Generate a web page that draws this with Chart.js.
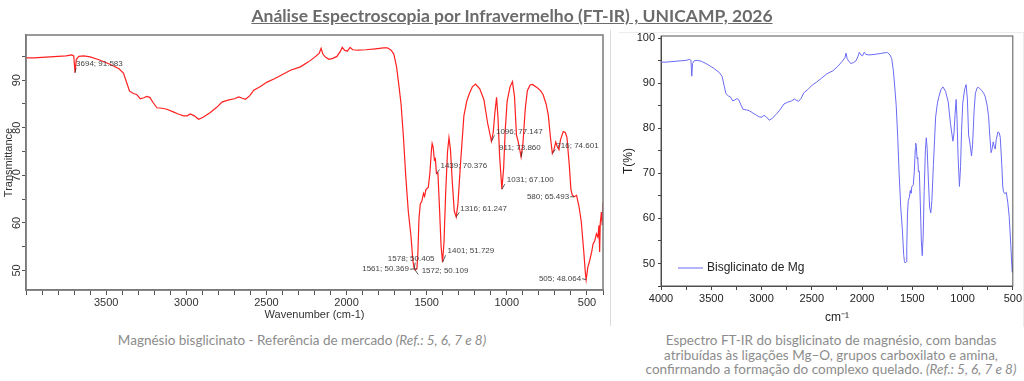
<!DOCTYPE html>
<html><head><meta charset="utf-8">
<script src="https://cdn.jsdelivr.net/npm/chart.js@4.4.1/dist/chart.umd.min.js"></script>
<style>
body{margin:0;width:1024px;height:381px;background:#fff;position:relative;overflow:hidden}
#title{position:absolute;left:0;top:5px;width:1024px;text-align:center;font:700 17.5px Lato,'Open Sans',sans-serif;color:#6b6b6b;text-decoration:underline;z-index:3}
#w1{position:absolute;left:0;top:0;width:612px;height:322px}
#w2{position:absolute;left:615px;top:0;width:409px;height:325px}
.cap{position:absolute;color:#8c8c8c;font:400 13.5px Lato,'Open Sans',sans-serif;text-align:center;line-height:14.5px;z-index:3}
.cap i{font-style:italic}
#frame1{position:absolute;left:0;top:30px;width:610px;height:296px;border-right:1px solid #dcdcdc}
#frame2{position:absolute;left:619px;top:32px;width:404px;height:294px;border-top:1px solid #ececec;border-right:1px solid #ececec}
</style></head>
<body>
<div id="frame1"></div><div id="frame2"></div>
<div id="title">Análise Espectroscopia por Infravermelho (FT-IR) , UNICAMP, 2026</div>
<div id="w1"><canvas id="c1" width="612" height="322"></canvas></div>
<div id="w2"><canvas id="c2" width="409" height="325"></canvas></div>
<div class="cap" style="left:0;top:333px;width:604px">Magnésio bisglicinato - Referência de mercado <i>(Ref.: 5, 6, 7 e 8)</i></div>
<div class="cap" style="left:600px;top:333px;width:462px">Espectro FT-IR do bisglicinato de magnésio, com bandas<br>atribuídas às ligações Mg–O, grupos carboxilato e amina,<br>confirmando a formação do complexo quelado. <i>(Ref.: 5, 6, 7 e 8)</i></div>
<script>
// ---- DATA ----
const wavenumber = [4000,3950,3900,3850,3800,3750,3715,3702,3694,3686,3670,3640,3600,3545,3480,3420,3392,3371,3354,3330,3310,3287,3265,3246,3228,3205,3183,3150,3121,3085,3050,3017,2995,2975,2950,2923,2895,2850,2810,2777,2740,2700,2673,2650,2631,2605,2579,2540,2496,2450,2400,2350,2288,2240,2200,2170,2159,2148,2130,2110,2085,2060,2040,2027,2012,1995,1978,1962,1930,1880,1820,1770,1745,1722,1705,1688,1672,1660,1645,1631,1615,1598,1586,1578,1572,1561,1555,1548,1540,1530,1520,1513,1505,1490,1480,1470,1466,1460,1452,1446,1439,1430,1420,1410,1401,1392,1382,1370,1361,1352,1340,1328,1316,1305,1290,1268,1250,1235,1215,1195,1169,1143,1120,1096,1085,1075,1064,1055,1045,1031,1020,1010,998,980,965,952,940,930,920,911,900,885,872,855,840,810,790,774,755,741,728,716,705,695,685,675,665,648,635,625,610,600,592,580,565,550,536,520,510,505,495,483,470,462,452,441,432,425,421,417,410,405,400];
const transmittance = [94.7,94.7,94.8,94.9,95.0,95.1,95.3,95.1,91.58,94.4,95.0,95.1,94.9,94.3,93.4,92.4,91.5,89.4,87.7,87.2,87.0,86.1,86.3,86.6,86.4,85.2,84.2,84.1,83.9,83.4,82.9,82.5,82.5,82.9,82.5,81.8,82.2,83.2,84.3,85.4,85.8,86.1,86.5,86.2,86.0,86.7,87.9,88.6,89.6,90.3,91.2,92.1,92.8,93.8,94.8,95.7,96.7,95.5,94.8,94.4,94.6,95.0,96.0,96.9,96.3,96.1,96.9,96.4,96.3,96.4,96.6,96.8,96.8,96.3,95.5,92.8,88.5,85.0,78.0,70.0,62.5,57.2,52.0,50.405,50.109,50.369,53.7,61.0,64.0,64.6,66.2,65.6,67.0,67.5,70.5,75.5,76.7,76.0,73.2,73.5,70.376,70.5,63.0,55.0,51.729,56.0,66.0,75.0,77.9,75.5,68.5,62.5,61.247,64.0,72.0,82.5,85.6,87.1,88.6,89.2,88.2,85.9,81.0,77.147,79.0,83.0,86.4,82.0,74.0,67.1,71.5,79.5,85.6,88.6,89.7,86.5,78.5,77.2,75.5,73.86,76.5,84.0,87.8,89.0,89.1,88.4,87.8,87.0,85.0,82.6,78.0,74.601,75.5,77.0,76.0,75.4,77.5,79.2,79.0,78.0,72.0,67.0,65.9,65.493,65.8,63.5,60.4,54.0,49.5,48.064,50.6,52.1,54.0,55.6,56.2,57.7,57.0,59.5,53.9,60.0,62.3,59.5,64.4];
const peakWavenumbers = [3694,1578,1561,1572,1401,1439,1316,1096,911,1031,716,580,505];
const peakValues = [91.583,50.405,50.369,50.109,51.729,70.376,61.247,77.147,73.860,67.100,74.601,65.493,48.064];
const leftXTickLabels = [3500,3000,2500,2000,1500,1000,500];
const leftYTickLabels = [50,60,70,80,90];
const rightXTickLabels = [4000,3500,3000,2500,2000,1500,1000,500];
const rightYTickLabels = [50,60,70,80,90,100];
const seriesName = 'Bisglicinato de Mg';

// label placement (px offsets from the peak point) for the left chart annotations
const peakLabelLayout = [
  {dx:1,dy:-8.5,align:'left'},{dx:-3,dy:-10,align:'center'},{dx:-8,dy:0.5,align:'right'},
  {dx:6.5,dy:0.5,align:'left'},{dx:5,dy:-11,align:'left'},{dx:4,dy:-8,align:'left'},
  {dx:4,dy:-8.5,align:'left'},{dx:4.5,dy:-10,align:'left'},{dx:-22,dy:-9.5,align:'left'},
  {dx:5,dy:-9,align:'left'},{dx:4,dy:-8,align:'left'},{dx:-5,dy:0,align:'right'},{dx:-5,dy:-1,align:'right'}
];

Chart.defaults.font.family = "'Liberation Sans', Arial, sans-serif";
const pts = wavenumber.map((x,i)=>({x:x,y:transmittance[i]}));

const framePlugin = {
  id:'frame',
  afterDraw(chart, args, opts){
    const a = chart.chartArea, c = chart.ctx;
    c.save(); c.strokeStyle = opts.color; c.lineWidth = opts.width;
    c.strokeRect(a.left, a.top, a.right-a.left, a.bottom-a.top);
    c.restore();
  }
};

const peakPlugin = {
  id:'peaks',
  afterDatasetsDraw(chart){
    const c = chart.ctx, xs = chart.scales.x, ys = chart.scales.y;
    c.save();
    c.font = "8px 'Liberation Sans', Arial, sans-serif";
    c.fillStyle = '#444'; c.strokeStyle = '#333'; c.lineWidth = 0.8;
    c.textBaseline = 'middle';
    peakWavenumbers.forEach((w,i)=>{
      const px = xs.getPixelForValue(w), py = ys.getPixelForValue(peakValues[i]);
      const L = peakLabelLayout[i];
      const tx = px + L.dx, ty = py + L.dy;
      c.textAlign = L.align;
      c.fillText(w + '; ' + peakValues[i].toFixed(3), tx, ty);
      c.beginPath(); c.moveTo(px, py);
      if (L.align === 'right') c.lineTo(tx + 1, ty);
      else c.lineTo(px + (L.dx > 0 ? Math.min(L.dx, 3) : 1), ty + 4);
      c.stroke();
    });
    c.restore();
  }
};

new Chart(document.getElementById('c1'), {
  type:'line',
  data:{datasets:[{data:pts, borderColor:'#ff2020', borderWidth:1.2, pointRadius:0, tension:0}]},
  options:{
    responsive:false, animation:false, events:[],
    layout:{padding:{top:35,right:9,left:0,bottom:0}},
    plugins:{legend:{display:false}, tooltip:{enabled:false}, frame:{color:'#7a7a7a', width:1.5}},
    scales:{
      x:{type:'linear', reverse:true, min:400, max:4000,
        ticks:{stepSize:100, autoSkip:false, maxRotation:0, minRotation:0, padding:1, color:'#333', font:{size:11},
          callback:v=>leftXTickLabels.includes(v)?String(v):''},
        grid:{drawOnChartArea:false, tickLength:5, color:'#555', tickWidth:1},
        border:{color:'#7a7a7a', width:1.5},
        title:{display:true, text:'Wavenumber (cm-1)', color:'#333', font:{size:11}, padding:{top:0,bottom:0}},
        afterFit(s){s.height = 32;}
      },
      y:{min:45.9, max:99.5,
        ticks:{stepSize:5, includeBounds:false, minRotation:90, maxRotation:90, crossAlign:'center', padding:-1, color:'#333', font:{size:11},
          callback:v=>leftYTickLabels.includes(v)?String(v):''},
        grid:{drawOnChartArea:false, tickLength:4, color:'#555'},
        border:{color:'#7a7a7a', width:1.5},
        title:{display:true, text:'Transmittance', color:'#333', font:{size:11}, padding:{top:2,bottom:0}},
        afterFit(s){s.width = 26;}
      }
    }
  },
  plugins:[framePlugin, peakPlugin]
});

const legendPlugin = {
  id:'inlegend',
  afterDraw(chart){
    const c = chart.ctx, a = chart.chartArea, ds = chart.data.datasets[0];
    const x0 = a.left + 17, y0 = a.bottom - 18;
    c.save();
    c.strokeStyle = ds.borderColor; c.lineWidth = 1;
    c.beginPath(); c.moveTo(x0, y0); c.lineTo(x0 + 25, y0); c.stroke();
    c.fillStyle = '#222'; c.font = "12px 'Liberation Sans', Arial, sans-serif";
    c.textBaseline = 'middle'; c.textAlign = 'left';
    c.fillText(ds.label, x0 + 29, y0);
    c.restore();
  }
};

new Chart(document.getElementById('c2'), {
  type:'line',
  data:{datasets:[{label:seriesName, data:pts, borderColor:'#6b6bf5', borderWidth:1, pointRadius:0, tension:0}]},
  options:{
    responsive:false, animation:false, events:[],
    layout:{padding:{top:36,right:10,left:0,bottom:0}},
    plugins:{legend:{display:false}, tooltip:{enabled:false}, frame:{color:'#555', width:1}},
    scales:{
      x:{type:'linear', reverse:true, min:500, max:4000,
        ticks:{stepSize:250, autoSkip:false, maxRotation:0, minRotation:0, padding:2, color:'#222', font:{size:11},
          callback:v=>rightXTickLabels.includes(v)?String(v):''},
        grid:{drawOnChartArea:false, tickLength:4, color:'#444'},
        border:{color:'#444', width:1},
        title:{display:true, text:'cm⁻¹', color:'#222', font:{size:12}, padding:{top:0,bottom:0}},
        afterFit(s){s.height = 39;}
      },
      y:{min:45, max:100.5,
        ticks:{stepSize:5, includeBounds:false, padding:3, color:'#222', font:{size:11},
          callback:v=>rightYTickLabels.includes(v)?String(v):''},
        grid:{drawOnChartArea:false, tickLength:3, color:'#444'},
        border:{color:'#444', width:1},
        title:{display:true, text:'T(%)', color:'#222', font:{size:12}, padding:{top:6,bottom:0}},
        afterFit(s){s.width = 46;}
      }
    }
  },
  plugins:[framePlugin, legendPlugin]
});
</script>
</body></html>
